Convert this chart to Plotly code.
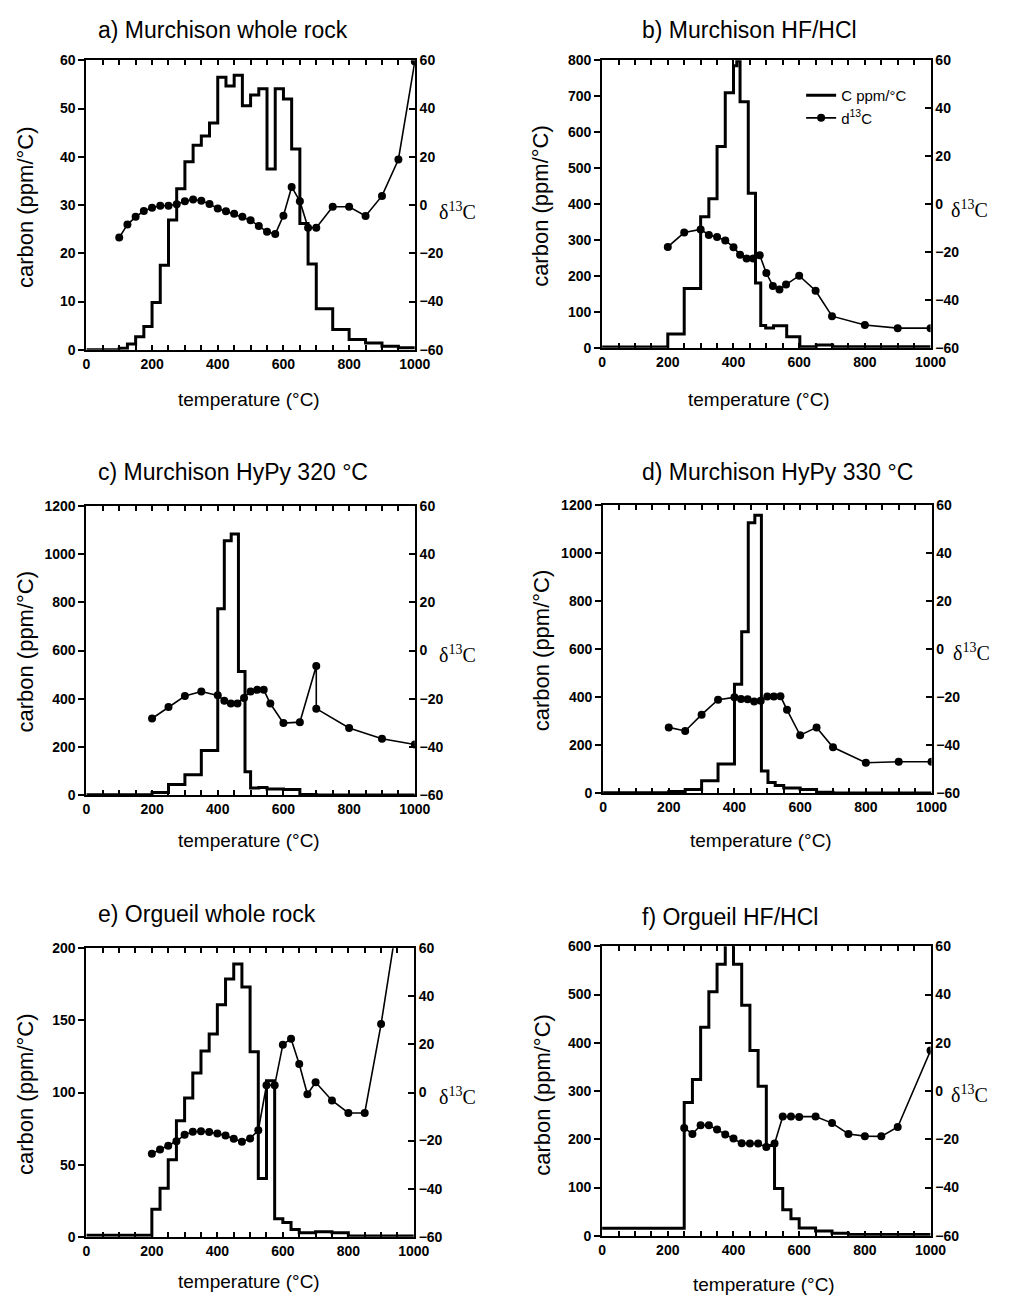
import plotly.graph_objects as go

# ---------------- data ----------------
# a) Murchison whole rock
a_edges = [0, 100, 125, 150, 175, 200, 225, 250, 275, 300, 325, 350, 375, 400, 425, 450, 475, 500, 525, 550,
           575, 600, 625, 650, 675, 700, 750, 800, 850, 900, 950, 1000]
a_carbon = [0, 0.3, 1.2, 2.7, 4.8, 9.8, 17.5, 26.9, 33.4, 39.0, 42.4, 44.3, 47.0, 56.5, 54.7, 56.9, 50.6, 52.8,
            54.1, 37.5, 54.1, 52.0, 41.6, 26.2, 17.8, 8.5, 4.2, 2.1, 1.4, 0.75, 0.4]
a_dT = [100, 125, 150, 175, 200, 225, 250, 275, 300, 325, 350, 375, 400, 425, 450, 475, 500, 525, 550, 575,
        600, 625, 650, 675, 700, 750, 800, 850, 900, 950, 1000]
a_d13c = [-13.5, -8.1, -4.9, -2.5, -1.1, -0.3, -0.3, 0.3, 1.6, 2.3, 1.8, 0.4, -1.4, -2.6, -3.6, -4.9, -6.3, -8.7,
          -11.1, -12.0, -4.4, 7.5, 1.6, -9.4, -9.4, -0.7, -0.7, -4.5, 3.8, 18.9, 59.5]

# b) Murchison HF/HCl
b_edges = [0, 200, 250, 300, 325, 350, 375, 400, 410, 420, 445, 467, 483, 498, 522, 562, 602, 652, 702, 1000]
b_carbon = [2, 38, 165, 365, 415, 560, 710, 785, 798, 685, 430, 180, 62, 55, 61, 31, 3, 8, 3]
b_dT = [200, 250, 300, 325, 350, 375, 400, 420, 440, 460, 480, 500, 520, 540, 560, 600, 650, 700, 800, 900, 1000]
b_d13c = [-17.9, -11.9, -10.6, -12.9, -13.8, -15.2, -18.0, -21.2, -22.7, -22.7, -21.4, -28.8, -34.2, -35.7,
          -33.6, -29.9, -36.2, -46.8, -50.5, -51.8, -51.8]

# c) Murchison HyPy 320 °C
c_edges = [0, 200, 250, 300, 350, 400, 420, 441, 463, 483, 500, 525, 550, 600, 650, 700, 1000]
c_carbon = [2, 11, 44, 85, 185, 773, 1055, 1083, 513, 97, 30, 32, 26, 24, 3, 1]
c_dT = [200, 250, 300, 350, 400, 420, 440, 460, 480, 500, 520, 540, 560, 600, 650, 700, 700, 800, 900, 1000]
c_d13c = [-28.2, -23.4, -18.9, -17.0, -18.6, -20.8, -22.0, -22.0, -19.7, -17.0, -16.3, -16.3, -22.0, -30.1,
          -29.7, -6.4, -24.1, -32.1, -36.6, -39.0]

# d) Murchison HyPy 330 °C
d_edges = [0, 200, 250, 300, 350, 400, 422, 442, 462, 482, 502, 524, 550, 600, 650, 700, 1000]
d_carbon = [2, 7, 16, 52, 122, 453, 672, 1125, 1157, 93, 45, 32, 22, 16, 4, 1]
d_dT = [200, 250, 300, 350, 400, 420, 440, 460, 480, 500, 520, 540, 560, 600, 650, 700, 800, 900, 1000]
d_d13c = [-32.6, -34.1, -27.3, -21.1, -20.1, -20.8, -20.9, -21.8, -21.5, -19.7, -19.7, -19.6, -25.3, -35.9,
          -32.6, -40.9, -47.3, -46.9, -46.9]

# e) Orgueil whole rock
e_edges = [0, 200, 225, 250, 275, 300, 325, 350, 375, 400, 425, 450, 475, 500, 525, 550, 575, 600, 625, 650,
           700, 750, 800, 1000]
e_carbon = [1, 19, 33.6, 53.4, 80.4, 96.2, 113.5, 128.8, 140.5, 160.8, 178.8, 189.2, 173.2, 128.2, 40.3, 108.1,
            12.4, 9.9, 5.0, 2.7, 3.4, 2.7, 0.5]
e_dT = [200, 225, 250, 275, 300, 325, 350, 375, 400, 425, 450, 475, 500, 525, 550, 575, 600, 625, 650, 675,
        700, 750, 800, 850, 900, 950]
e_d13c = [-25.5, -23.7, -22.1, -20.3, -17.6, -16.3, -16.1, -16.4, -17.1, -17.9, -19.2, -20.5, -19.1, -15.7,
          3.0, 3.0, 19.9, 22.4, 11.9, -0.7, 4.3, -3.3, -8.5, -8.5, 28.5, 72]

# f) Orgueil HF/HCl
f_edges = [0, 250, 275, 300, 325, 350, 375, 400, 425, 450, 475, 500, 525, 550, 575, 600, 650, 700, 750, 1000]
f_carbon = [15.6, 276, 324, 432, 506, 563, 610, 563, 478, 384, 310, 187, 98, 54, 35, 16, 10, 5, 2.5]
f_dT = [250, 275, 300, 325, 350, 375, 400, 425, 450, 475, 500, 525, 550, 575, 600, 650, 700, 750, 800, 850,
        900, 1000]
f_d13c = [-15.3, -17.8, -14.2, -14.2, -16.0, -18.0, -19.7, -21.7, -21.8, -21.8, -23.2, -21.8, -10.6, -10.6,
          -10.8, -10.6, -13.3, -17.8, -18.7, -18.8, -14.9, 16.8]

titles = ["a) Murchison whole rock", "b) Murchison HF/HCl", "c) Murchison HyPy 320 °C",
          "d) Murchison HyPy 330 °C", "e) Orgueil whole rock", "f) Orgueil HF/HCl"]
carbon_max = [60, 800, 1200, 1200, 200, 600]
carbon_dtick = [10, 100, 200, 200, 50, 100]
x_major = list(range(0, 1001, 200))
d13c_ticks = [-60, -40, -20, 0, 20, 40, 60]

series = [
    (a_edges, a_carbon, a_dT, a_d13c),
    (b_edges, b_carbon, b_dT, b_d13c),
    (c_edges, c_carbon, c_dT, c_d13c),
    (d_edges, d_carbon, d_dT, d_d13c),
    (e_edges, e_carbon, e_dT, e_d13c),
    (f_edges, f_carbon, f_dT, f_d13c),
]

# ---------------- layout geometry (pixels) ----------------
W, H = 1025, 1303
# plot boxes: (left, right, top, bottom)
boxes = [(84, 419, 53, 346), (610, 945, 53, 344),
         (84, 419, 504, 797), (611, 946, 503, 795),
         (84, 418, 952, 1244), (610, 945, 950, 1243)]
title_pos = [(94, 22), (649, 22), (94, 470), (649, 470), (94, 917), (649, 920)]
xtitle_pos = [(250, 396), (770, 396), (250, 843), (772, 843), (250, 1289), (775, 1292)]
ytitle_pos = [(22, 202), (547, 200), (22, 652), (548, 650), (22, 1100), (549, 1100)]
dtitle_pos = [(463, 206), (985, 204), (463, 654), (987, 652), (463, 1102), (985, 1100)]

SANS = "Liberation Sans, Arial, sans-serif"
SERIF = "Liberation Serif, Times New Roman, serif"


def px(x):
    return x / W


def py(y):
    return 1 - y / H


fig = go.Figure()
layout = dict(width=W, height=H, margin=dict(l=0, r=0, t=0, b=0),
              paper_bgcolor="white", plot_bgcolor="white", showlegend=True,
              legend=dict(x=px(813), y=py(72), xanchor="left", yanchor="top",
                          bgcolor="rgba(0,0,0,0)", font=dict(family=SANS, size=15, color="black"),
                          itemwidth=30, tracegroupgap=0))
annotations = []

for i, (edges, carbon, dT, d13c) in enumerate(series):
    n = i + 1
    xname = "x" if n == 1 else f"x{n}"
    yl = 2 * n - 1
    yr = 2 * n
    ylname = "y" if yl == 1 else f"y{yl}"
    yrname = f"y{yr}"
    xkey = "xaxis" if n == 1 else f"xaxis{n}"
    ylkey = "yaxis" if yl == 1 else f"yaxis{yl}"
    yrkey = f"yaxis{yr}"
    L, R, T, B = boxes[i]

    step_x = list(edges)
    step_y = list(carbon) + [carbon[-1]]
    fig.add_trace(go.Scatter(x=step_x, y=step_y, mode="lines", line=dict(shape="hv", color="black", width=3),
                             xaxis=xname, yaxis=ylname, name="C ppm/°C", showlegend=(n == 2),
                             hoverinfo="skip"))
    fig.add_trace(go.Scatter(x=dT, y=d13c, mode="lines+markers", line=dict(color="black", width=1.6),
                             marker=dict(color="black", size=8), xaxis=xname, yaxis=yrname,
                             name="d<sup>13</sup>C", showlegend=(n == 2), hoverinfo="skip"))

    tickfont = dict(family=SANS, size=14, color="black", weight="bold")
    layout[xkey] = dict(domain=[px(L), px(R)], anchor=ylname, range=[0, 1000],
                        tickmode="array", tickvals=x_major,
                        ticks="inside", ticklen=5, tickwidth=1.5, tickcolor="black",
                        minor=dict(ticks="inside", dtick=50, tick0=0, ticklen=5, tickwidth=1.5,
                                   tickcolor="black", showgrid=False),
                        showline=True, linewidth=2, linecolor="black", mirror="ticks",
                        showgrid=False, zeroline=False, tickfont=tickfont)
    layout[ylkey] = dict(domain=[py(B), py(T)], anchor=xname, range=[0, carbon_max[i]],
                         tickmode="linear", tick0=0, dtick=carbon_dtick[i],
                         ticks="outside", ticklen=6, tickwidth=1.5, tickcolor="black",
                         showline=True, linewidth=2, linecolor="black",
                         showgrid=False, zeroline=False, tickfont=tickfont)
    layout[yrkey] = dict(overlaying=ylname, anchor=xname, side="right", range=[-60, 60],
                         tickmode="array", tickvals=d13c_ticks,
                         ticks="inside", ticklen=6, tickwidth=1.5, tickcolor="black",
                         showline=True, linewidth=2, linecolor="black",
                         showgrid=False, zeroline=False, tickfont=tickfont)

    tx, ty = title_pos[i]
    annotations.append(dict(text=titles[i], x=px(tx), y=py(ty), xref="paper", yref="paper",
                            xanchor="left", yanchor="middle", showarrow=False,
                            font=dict(family=SANS, size=23, color="black")))
    ax_, ay_ = xtitle_pos[i]
    annotations.append(dict(text="temperature (°C)", x=px(ax_), y=py(ay_), xref="paper", yref="paper",
                            xanchor="center", yanchor="middle", showarrow=False,
                            font=dict(family=SANS, size=19, color="black")))
    bx, by = ytitle_pos[i]
    annotations.append(dict(text="carbon (ppm/°C)", x=px(bx), y=py(by), xref="paper", yref="paper",
                            xanchor="center", yanchor="middle", showarrow=False, textangle=-90,
                            font=dict(family=SANS, size=22, color="black")))
    cx, cy = dtitle_pos[i]
    annotations.append(dict(text="δ<sup>13</sup>C", x=px(cx), y=py(cy), xref="paper", yref="paper",
                            xanchor="center", yanchor="middle", showarrow=False,
                            font=dict(family=SERIF, size=20, color="black")))

layout["annotations"] = annotations
fig.update_layout(**layout)
fig.write_html("out.html")
